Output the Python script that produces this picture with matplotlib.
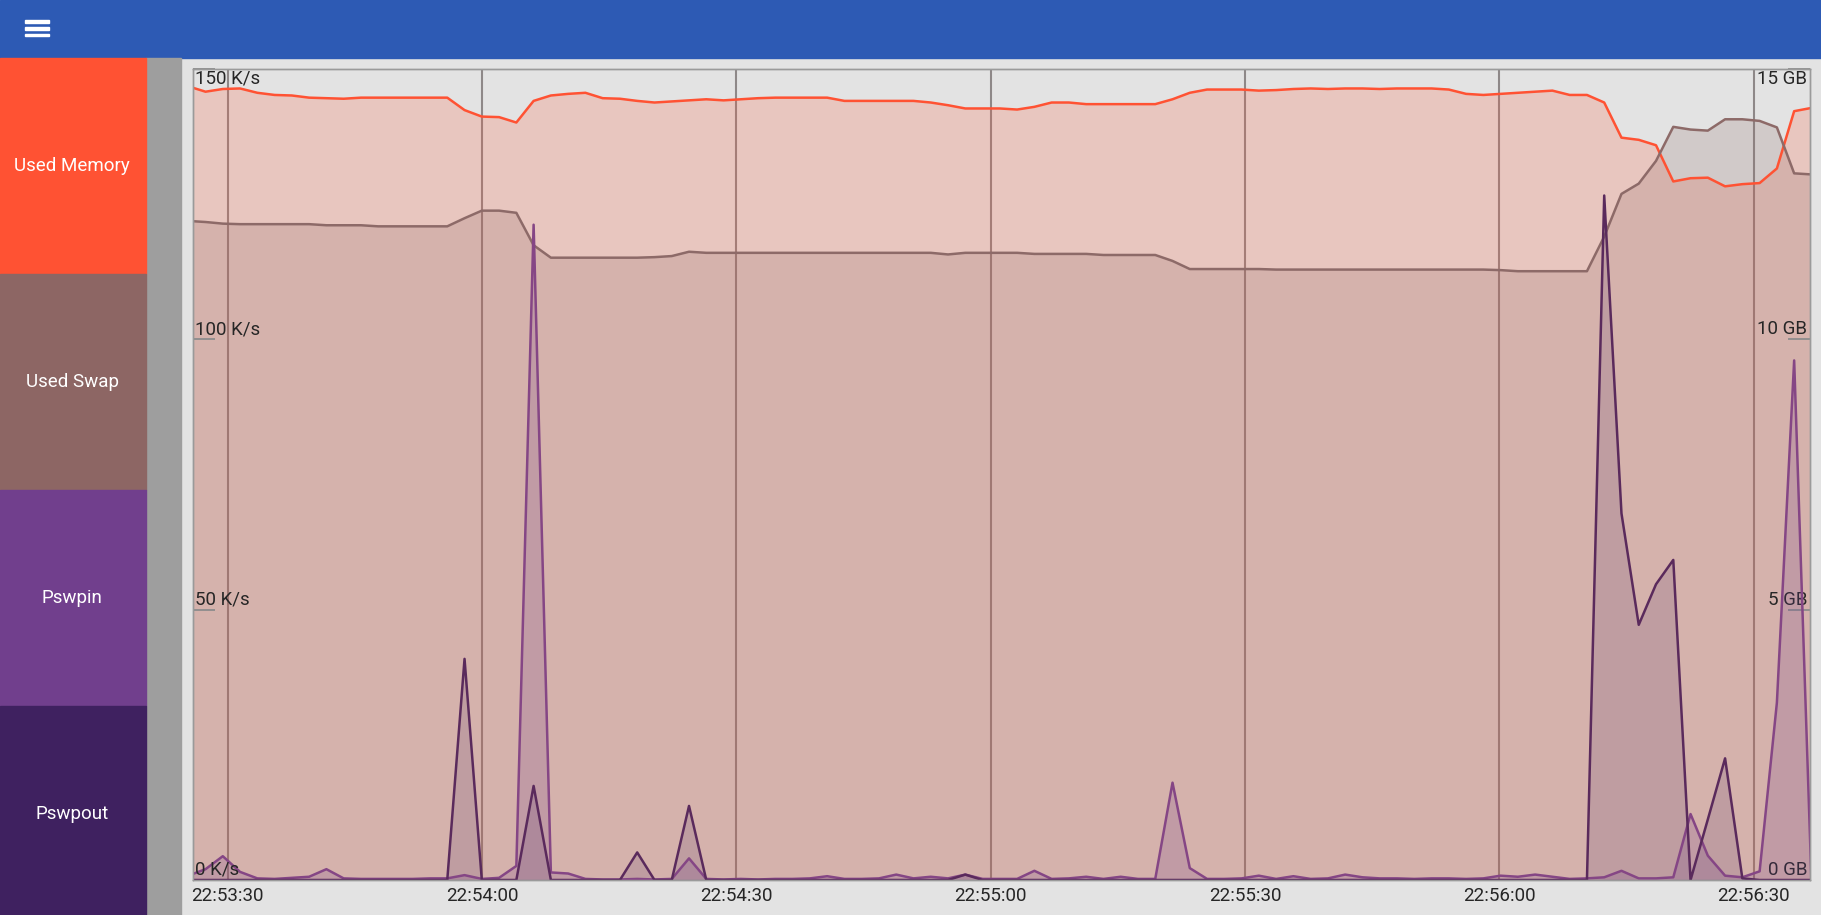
import matplotlib
matplotlib.use("Agg")
import matplotlib.pyplot as plt
import matplotlib.transforms as mtransforms
from matplotlib.patches import Rectangle
import numpy as np

plt.rcParams['font.family'] = ['Roboto', 'DejaVu Sans']

W, H, DPI = 1821, 915, 100

# sample clock: seconds relative to 22:53:30, one sample about every 2 s
t_start = -4.66
t_step = 2.037

used_memory_gb = [
    14.68, 14.58, 14.63, 14.64, 14.56, 14.52, 14.51, 14.47, 14.46, 14.45,
    14.47, 14.47, 14.47, 14.47, 14.47, 14.47, 14.24, 14.12, 14.11, 14.01,
    14.41, 14.51, 14.54, 14.56, 14.46, 14.45, 14.41, 14.38, 14.40, 14.42,
    14.44, 14.42, 14.44, 14.46, 14.47, 14.47, 14.47, 14.47, 14.41, 14.41,
    14.41, 14.41, 14.41, 14.38, 14.33, 14.27, 14.27, 14.27, 14.25, 14.30,
    14.38, 14.38, 14.35, 14.35, 14.35, 14.35, 14.35, 14.44, 14.56, 14.62,
    14.62, 14.62, 14.60, 14.61, 14.63, 14.64, 14.63, 14.64, 14.64, 14.63,
    14.64, 14.64, 14.64, 14.62, 14.54, 14.52, 14.54, 14.56, 14.58, 14.60,
    14.52, 14.52, 14.38, 13.73, 13.69, 13.59, 12.92, 12.98, 12.99, 12.83,
    12.87, 12.89, 13.16, 14.22, 14.28,
]
used_swap_gb = [
    12.19, 12.17, 12.14, 12.13, 12.13, 12.13, 12.13, 12.13, 12.11, 12.11,
    12.11, 12.09, 12.09, 12.09, 12.09, 12.09, 12.24, 12.38, 12.38, 12.34,
    11.74, 11.51, 11.51, 11.51, 11.51, 11.51, 11.51, 11.52, 11.54, 11.62,
    11.60, 11.60, 11.60, 11.60, 11.60, 11.60, 11.60, 11.60, 11.60, 11.60,
    11.60, 11.60, 11.60, 11.60, 11.57, 11.60, 11.60, 11.60, 11.60, 11.58,
    11.58, 11.58, 11.58, 11.56, 11.56, 11.56, 11.56, 11.45, 11.30, 11.30,
    11.30, 11.30, 11.30, 11.29, 11.29, 11.29, 11.29, 11.29, 11.29, 11.29,
    11.29, 11.29, 11.29, 11.29, 11.29, 11.29, 11.28, 11.26, 11.26, 11.26,
    11.26, 11.26, 11.90, 12.69, 12.88, 13.30, 13.93, 13.88, 13.86, 14.07,
    14.07, 14.04, 13.92, 13.07, 13.05,
]
pswpin_ks = [
    0.8, 2.0, 4.4, 1.5, 0.3, 0.2, 0.4, 0.6, 2.0, 0.3,
    0.2, 0.2, 0.2, 0.2, 0.3, 0.3, 0.9, 0.2, 0.4, 2.6,
    121.2, 1.4, 1.2, 0.2, 0.1, 0.1, 0.2, 0.1, 0.2, 4.0,
    0.2, 0.1, 0.2, 0.1, 0.2, 0.2, 0.3, 0.7, 0.2, 0.2,
    0.3, 1.0, 0.3, 0.6, 0.3, 1.0, 0.2, 0.2, 0.2, 1.7,
    0.2, 0.3, 0.6, 0.2, 0.6, 0.2, 0.2, 18.0, 2.2, 0.2,
    0.2, 0.3, 0.8, 0.2, 0.7, 0.2, 0.3, 1.0, 0.5, 0.3,
    0.3, 0.2, 0.3, 0.3, 0.2, 0.3, 0.8, 0.6, 1.0, 0.6,
    0.2, 0.3, 0.5, 1.7, 0.3, 0.3, 0.5, 12.2, 4.5, 0.8,
    0.5, 1.6, 32.8, 96.1, 0.0,
]
pswpout_ks = [
    0, 0, 0, 0, 0, 0, 0, 0, 0, 0,
    0, 0, 0, 0, 0, 0, 40.9, 0, 0, 0,
    17.4, 0, 0, 0, 0, 0, 5.1, 0, 0, 13.7,
    0, 0, 0, 0, 0, 0, 0, 0, 0, 0,
    0, 0, 0, 0, 0, 1.0, 0, 0, 0, 0,
    0, 0, 0, 0, 0, 0, 0, 0, 0, 0,
    0, 0, 0, 0, 0, 0, 0, 0, 0, 0,
    0, 0, 0, 0, 0, 0, 0, 0, 0, 0,
    0, 0, 126.6, 67.8, 47.2, 54.7, 59.2, 0, 11.2, 22.5,
    0.3, 0, 0, 0, 0,
]

tick_secs = [0, 30, 60, 90, 120, 150, 180]
tick_labels = ["22:53:30", "22:54:00", "22:54:30", "22:55:00",
               "22:55:30", "22:56:00", "22:56:30"]
ks_ticks = [0, 50, 100, 150]
gb_ticks = [0, 5, 10, 15]
x_range = (-4.1, 186.65)

menu_items = ["Used Memory", "Used Swap", "Pswpin", "Pswpout"]
menu_colors = ["#ff5233", "#8d6664", "#713f8d", "#3f2160"]

BG = "#e3e3e3"
GRID = "#8e8888"
TXT = "#262626"
FS = 13.5


def fx(px):
    return px / W


def fy(py):
    return 1 - py / H


fig = plt.figure(figsize=(W / DPI, H / DPI), dpi=DPI)
fig.patch.set_facecolor(BG)

# top bar + menu icon
fig.patches.append(Rectangle((0, fy(58)), 1, 58 / H, transform=fig.transFigure,
                             color="#2d5ab4", zorder=0))
for cy in (21.5, 28.2, 35):
    fig.patches.append(Rectangle((fx(25), fy(cy + 1.4)), 24 / W, 2.8 / H,
                                 transform=fig.transFigure, color="white", zorder=1))

# side menu
fig.patches.append(Rectangle((fx(146), 0), 35 / W, fy(58), transform=fig.transFigure,
                             color="#9e9e9e", zorder=0))
for i, (name, col) in enumerate(zip(menu_items, menu_colors)):
    top = 58 + 216 * i
    fig.patches.append(Rectangle((0, fy(top + 216)), 146 / W, 216 / H,
                                 transform=fig.transFigure, color=col, zorder=0))
    fig.text(fx(72), fy(top + 108), name, color="white", fontsize=FS,
             ha="center", va="center")

# chart
rect = [fx(193), fy(880), 1617 / W, 811 / H]
ax = fig.add_axes(rect)
ax_gb = ax.twinx()
ax.set_zorder(ax_gb.get_zorder() + 1)
ax.patch.set_visible(False)
ax_gb.patch.set_visible(True)
ax_gb.patch.set_facecolor(BG)

t = t_start + t_step * np.arange(len(used_memory_gb))

for s in tick_secs:
    ax_gb.axvline(s, color=GRID, lw=1.5, zorder=0.5)

ax_gb.fill_between(t, 0, used_memory_gb, color=menu_colors[0], alpha=0.2, lw=0, zorder=1)
ax_gb.fill_between(t, 0, used_swap_gb, color=menu_colors[1], alpha=0.2, lw=0, zorder=1)
ax_gb.plot(t, used_memory_gb, color=menu_colors[0], lw=1.8, zorder=2)
ax_gb.plot(t, used_swap_gb, color="#8d6a68", lw=1.8, zorder=2)

ax.fill_between(t, 0, pswpin_ks, color=menu_colors[2], alpha=0.2, lw=0, zorder=1)
ax.fill_between(t, 0, pswpout_ks, color=menu_colors[3], alpha=0.14, lw=0, zorder=1)
ax.plot(t, pswpin_ks, color="#854685", lw=1.8, zorder=2)
ax.plot(t, pswpout_ks, color="#5a2a5c", lw=1.8, zorder=2)

ax.set_xlim(*x_range)
ax.set_ylim(0, ks_ticks[-1])
ax_gb.set_ylim(0, gb_ticks[-1])

ax.set_xticks(tick_secs)
ax.set_xticklabels(tick_labels)
ax.tick_params(axis="x", length=0, pad=5, labelsize=FS, labelcolor=TXT)

ax.set_yticks(ks_ticks)
ax.set_yticklabels([])
ax.tick_params(axis="y", direction="in", length=16, width=1.3, color="#8c8c8c")
ax_gb.set_yticks(gb_ticks)
ax_gb.set_yticklabels([])
ax_gb.tick_params(axis="y", direction="in", length=16, width=1.3, color="#8c8c8c")

for a in (ax, ax_gb):
    for sp in a.spines.values():
        sp.set_color("#9a9a9a")
        sp.set_linewidth(1.0)

# axis value labels sit just above their tick, inside the plot
left_tr = mtransforms.blended_transform_factory(ax.transAxes, ax.transData)
right_tr = mtransforms.blended_transform_factory(ax_gb.transAxes, ax_gb.transData)
for v in ks_ticks:
    is_top = v == ks_ticks[-1]
    tr = mtransforms.offset_copy(left_tr, fig=fig, x=2, y=-1 if is_top else 1, units="dots")
    ax.text(0, v, f"{v} K/s", transform=tr, fontsize=FS, color=TXT,
            ha="left", va="top" if is_top else "bottom", zorder=5)
for v in gb_ticks:
    is_top = v == gb_ticks[-1]
    tr = mtransforms.offset_copy(right_tr, fig=fig, x=-3, y=-1 if is_top else 1, units="dots")
    ax_gb.text(1, v, f"{v} GB", transform=tr, fontsize=FS, color=TXT,
               ha="right", va="top" if is_top else "bottom", zorder=5)

fig.savefig("out.png", dpi=DPI, facecolor=fig.get_facecolor())
